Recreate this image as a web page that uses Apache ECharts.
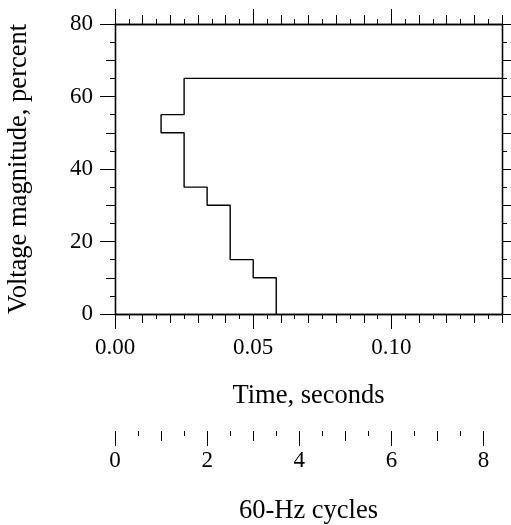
<!DOCTYPE html>
<html>
<head>
<meta charset="utf-8">
<script src="https://cdn.jsdelivr.net/npm/echarts@6/dist/echarts.min.js"></script>
<style>
  html, body { margin: 0; padding: 0; background: #fff; }
  #main { width: 511px; height: 525px; }
</style>
</head>
<body>
<div id="main"></div>
<script>
// step curve, time in seconds / voltage in percent
var timeSec = [0.14, 0.025, 0.025, 0.01667, 0.01667, 0.025, 0.025, 0.03333, 0.03333, 0.04167, 0.04167, 0.05, 0.05, 0.05833, 0.05833];
var voltPct = [65, 65, 55, 55, 50, 50, 35, 35, 30, 30, 15, 15, 10, 10, 0];

var timeLabels = [0, 0.05, 0.10];
var cycleLabels = [0, 2, 4, 6, 8];
var cycleMid = [1, 3, 5, 7];
var cycleMinor = [0.5, 1.5, 2.5, 3.5, 4.5, 5.5, 6.5, 7.5];

var FONT = 'Liberation Serif';
var ink = '#000';
var tickSize = 23, titleSize = 26.5;

var chart = echarts.init(document.getElementById('main'));

var pts = [];
for (var i = 0; i < timeSec.length; i++) pts.push([timeSec[i], voltPct[i]]);

function timeAxis(pos, major) {
  var a = {
    type: 'value', gridIndex: 0, position: pos, min: 0, max: 0.14,
    axisLine: { show: true, onZero: false, lineStyle: { color: ink, width: 1.3 } },
    splitLine: { show: false },
    axisLabel: { show: false }
  };
  if (major) {
    a.axisTick = { show: true, length: 15, customValues: timeLabels, lineStyle: { color: ink, width: 1 } };
    if (pos === 'bottom') {
      a.axisLabel = {
        show: true, customValues: timeLabels, margin: 22,
        fontFamily: FONT, fontSize: tickSize, color: ink,
        formatter: function (v) { return v.toFixed(2); }
      };
      a.name = 'Time, seconds';
      a.nameLocation = 'middle';
      a.nameGap = 69;
      a.nameTextStyle = { fontFamily: FONT, fontSize: titleSize, color: ink };
    }
  } else {
    a.interval = 0.01;
    a.axisTick = { show: true, length: 9, lineStyle: { color: ink, width: 1 } };
    a.minorTick = { show: true, splitNumber: 2, length: 5, lineStyle: { color: ink, width: 1 } };
  }
  return a;
}

function voltAxis(pos, major) {
  var a = {
    type: 'value', gridIndex: 0, position: pos, min: 0, max: 80,
    axisLine: { show: true, onZero: false, lineStyle: { color: ink, width: 1.3 } },
    splitLine: { show: false },
    axisLabel: { show: false }
  };
  if (major) {
    a.interval = 20;
    a.axisTick = { show: true, length: 15, lineStyle: { color: ink, width: 1 } };
    if (pos === 'left') {
      a.axisLabel = { show: true, margin: 22, fontFamily: FONT, fontSize: tickSize, color: ink };
      a.name = 'Voltage magnitude, percent';
      a.nameLocation = 'middle';
      a.nameGap = 82;
      a.nameTextStyle = { fontFamily: FONT, fontSize: titleSize, color: ink };
    }
  } else {
    a.interval = 10;
    a.axisTick = { show: true, length: 9, lineStyle: { color: ink, width: 1 } };
    a.minorTick = { show: true, splitNumber: 2, length: 5, lineStyle: { color: ink, width: 1 } };
  }
  return a;
}

function cycleAxis(vals, len, withLabels) {
  var a = {
    type: 'value', gridIndex: 1, position: 'bottom', min: 0, max: 8.4,
    axisLine: { show: false },
    splitLine: { show: false },
    axisTick: { show: true, length: len, customValues: vals, lineStyle: { color: ink, width: 1 } },
    axisLabel: { show: false }
  };
  if (withLabels) {
    a.axisLabel = { show: true, customValues: cycleLabels, margin: 18, fontFamily: FONT, fontSize: tickSize, color: ink };
    a.name = '60-Hz cycles';
    a.nameLocation = 'middle';
    a.nameGap = 67;
    a.nameTextStyle = { fontFamily: FONT, fontSize: titleSize, color: ink };
  }
  return a;
}

var option = {
  animation: false,
  backgroundColor: '#fff',
  grid: [
    { left: 115, right: 9, top: 24, bottom: 211, outerBoundsMode: 'none', containLabel: false },
    { left: 115, right: 9, top: 430, height: 1, outerBoundsMode: 'none', containLabel: false }
  ],
  xAxis: [
    timeAxis('bottom', false),
    timeAxis('bottom', true),
    timeAxis('top', false),
    timeAxis('top', true),
    cycleAxis(cycleMinor, 5, false),
    cycleAxis(cycleMid, 10, false),
    cycleAxis(cycleLabels, 15, true)
  ],
  yAxis: [
    voltAxis('left', false),
    voltAxis('left', true),
    voltAxis('right', false),
    voltAxis('right', true),
    { type: 'value', gridIndex: 1, show: false, min: 0, max: 1 }
  ],
  series: [
    {
      type: 'line',
      xAxisIndex: 0,
      yAxisIndex: 0,
      data: pts,
      showSymbol: false,
      symbol: 'none',
      lineStyle: { color: ink, width: 1.4 },
      clip: false
    }
  ]
};

chart.setOption(option);
window.addEventListener('resize', function () { chart.resize(); });
</script>
</body>
</html>
